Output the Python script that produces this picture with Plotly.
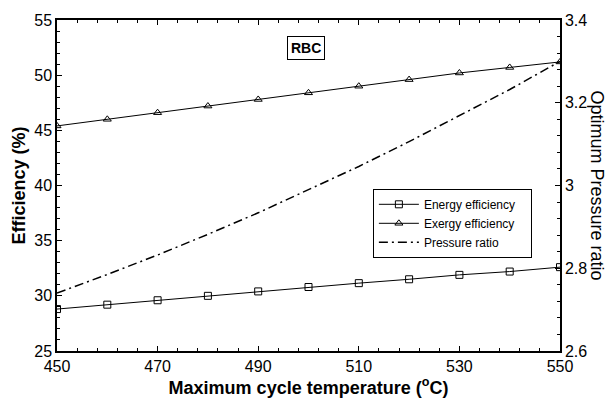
import plotly.graph_objects as go

temperature = [450, 460, 470, 480, 490, 500, 510, 520, 530, 540, 550]
energy_eff = [28.8, 29.2, 29.6, 30.0, 30.4, 30.8, 31.15, 31.5, 31.9, 32.2, 32.6]
exergy_eff = [45.4, 46.0, 46.6, 47.2, 47.8, 48.4, 49.0, 49.6, 50.2, 50.7, 51.2]
pressure_ratio = [2.740, 2.785, 2.832, 2.882, 2.934, 2.989, 3.046, 3.106, 3.168, 3.232, 3.300]

FONT = "Arial, Liberation Sans, sans-serif"
PAD = "\u00a0" * 3

fig = go.Figure()
fig.add_trace(go.Scatter(
    x=temperature, y=energy_eff, name="Energy efficiency" + PAD, mode="lines+markers",
    line=dict(color="black", width=1),
    marker=dict(symbol="square-open", size=7, color="black", line=dict(width=1)),
))
fig.add_trace(go.Scatter(
    x=temperature, y=exergy_eff, name="Exergy efficiency" + PAD, mode="lines+markers",
    line=dict(color="black", width=1),
    marker=dict(symbol="triangle-up-open", size=7, color="black", line=dict(width=1)),
))
fig.add_trace(go.Scatter(
    x=temperature, y=pressure_ratio, name="Pressure ratio", mode="lines", yaxis="y2",
    line=dict(color="black", width=1.5, dash="9px,4px,2px,4px"),
))

axis_common = dict(
    showgrid=False, zeroline=False, showline=True, linecolor="black", linewidth=1.5,
    ticks="inside", ticklen=5, tickwidth=1, tickcolor="black",
    tickfont=dict(family=FONT, size=16, color="black"),
)

fig.update_layout(
    width=610, height=401,
    margin=dict(l=57, r=50, t=16, b=49),
    paper_bgcolor="white", plot_bgcolor="white",
    font=dict(family=FONT, color="black"),
    xaxis=dict(
        **axis_common, range=[450, 550], dtick=20, tick0=450, mirror="ticks",
        minor=dict(dtick=4, tick0=450, ticks="inside", ticklen=3, tickcolor="black"),
        title=dict(text="<b>Maximum cycle temperature (<sup>o</sup>C)</b>",
                   font=dict(family=FONT, size=18, color="black"), standoff=1),
    ),
    yaxis=dict(
        **axis_common, range=[25, 55], dtick=5,
        minor=dict(dtick=1, ticks="inside", ticklen=3, tickcolor="black"),
        title=dict(text="<b>Efficiency (%)</b>",
                   font=dict(family=FONT, size=18, color="black"), standoff=4),
    ),
    yaxis2=dict(
        **axis_common, range=[2.6, 3.4], dtick=0.2, overlaying="y", side="right",
        minor=dict(dtick=0.04, ticks="inside", ticklen=3, tickcolor="black"),
    ),
    legend=dict(
        x=0.628, y=0.49, xanchor="left", yanchor="top",
        bgcolor="white", bordercolor="black", borderwidth=1,
        font=dict(family=FONT, size=12, color="black"),
        tracegroupgap=0, itemwidth=40,
    ),
    annotations=[
        dict(text="<b>RBC</b>", x=0.495, y=0.951, xref="paper", yref="paper",
             showarrow=False, font=dict(family=FONT, size=14, color="black"),
             bordercolor="black", borderwidth=1, borderpad=3, bgcolor="white"),
        dict(text="Optimum Pressure ratio", x=1.0755, y=0.5, xref="paper", yref="paper",
             showarrow=False, textangle=90, xanchor="center", yanchor="middle",
             font=dict(family=FONT, size=18, color="black")),
    ],
)

fig.write_html("out.html")
